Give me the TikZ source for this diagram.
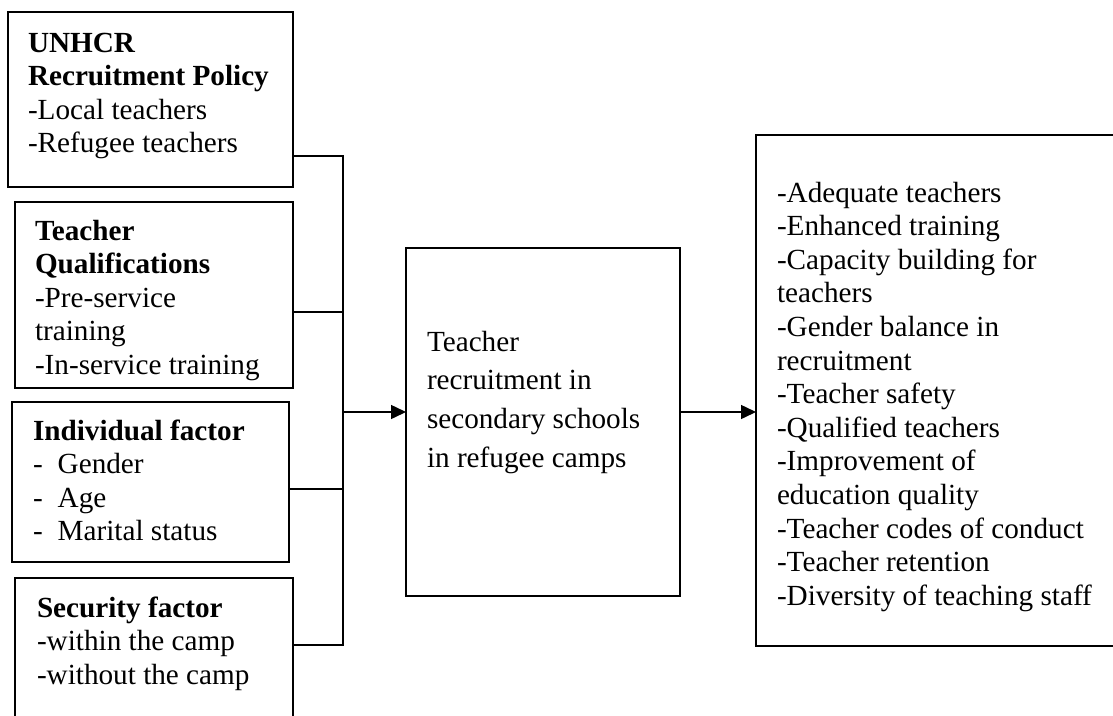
\documentclass[tikz,border=0pt]{standalone}
\usepackage{fontspec}
\setmainfont{Liberation Serif}
\usetikzlibrary{arrows.meta}
\begin{document}
\begin{tikzpicture}[x=1pt,y=-1pt,
  box/.style={draw=black,line width=1.5pt,inner sep=0pt,outer sep=0pt,anchor=north west},
  link/.style={draw=black,line width=1.5pt},
  arr/.style={link,-{Triangle[length=15pt,width=14pt]}},
  txt/.style={anchor=base west,inner sep=0pt,outer sep=0pt,align=left,font=\fontsize{29.2}{33.6}\selectfont},
  txtc/.style={txt,font=\fontsize{29.2}{38.7}\selectfont}]
\clip (0,0) rectangle (1113,715);
\fill[white] (0,0) rectangle (1113,715);
% boxes
\node[box,minimum width=285pt,minimum height=175pt] (b1) at (8,12) {};
\node[box,minimum width=278pt,minimum height=186pt] (b2) at (15,202) {};
\node[box,minimum width=277pt,minimum height=160pt] (b3) at (12,402) {};
\node[box,minimum width=278pt,minimum height=160pt] (b4) at (15,578) {};
\node[box,minimum width=274pt,minimum height=348pt] (c) at (406,248) {};
\node[box,minimum width=370pt,minimum height=511pt] (r) at (756,135) {};
% texts
\node[txt] (t1) at (28,52) {\begin{tabular}[t]{@{}l@{}}\textbf{UNHCR}\\\textbf{Recruitment Policy}\\-Local teachers\\-Refugee teachers\end{tabular}};
\begin{scope}
\clip (15,202) rectangle (293,387);
\node[txt] (t2) at (35,240) {\begin{tabular}[t]{@{}l@{}}\textbf{Teacher}\\\textbf{Qualifications}\\-Pre-service\\training\\-In-service training\end{tabular}};
\end{scope}
\node[txt] (t3) at (33,440) {\begin{tabular}[t]{@{}l@{}}\textbf{Individual factor}\\-\hspace{15pt}Gender\\-\hspace{15pt}Age\\-\hspace{15pt}Marital status\end{tabular}};
\node[txt] (t4) at (37,617) {\begin{tabular}[t]{@{}l@{}}\textbf{Security factor}\\-within the camp\\-without the camp\end{tabular}};
\node[txtc] (tc) at (427,351) {\begin{tabular}[t]{@{}l@{}}Teacher\\recruitment in\\secondary schools\\in refugee camps\end{tabular}};
\node[txt] (tr) at (777,202) {\begin{tabular}[t]{@{}l@{}}-Adequate teachers\\-Enhanced training\\-Capacity building for\\teachers\\-Gender balance in\\recruitment\\-Teacher safety\\-Qualified teachers\\-Improvement of\\education quality\\-Teacher codes of conduct\\-Teacher retention\\-Diversity of teaching staff\end{tabular}};
% connectors
\coordinate (j1) at (343,156);
\coordinate (j2) at (343,312);
\coordinate (j3) at (343,489);
\coordinate (j4) at (343,645);
\coordinate (jm) at (343,412);
\draw[link] (b1.east |- j1) -- (j1);
\draw[link] (b2.east |- j2) -- (j2);
\draw[link] (b3.east |- j3) -- (j3);
\draw[link] (b4.east |- j4) -- (j4);
\draw[link,line cap=rect] (j1) -- (j4);
\draw[arr] (jm) -- (c.west |- jm);
\draw[arr] (c.east |- jm) -- (r.west |- jm);
\end{tikzpicture}
\end{document}
